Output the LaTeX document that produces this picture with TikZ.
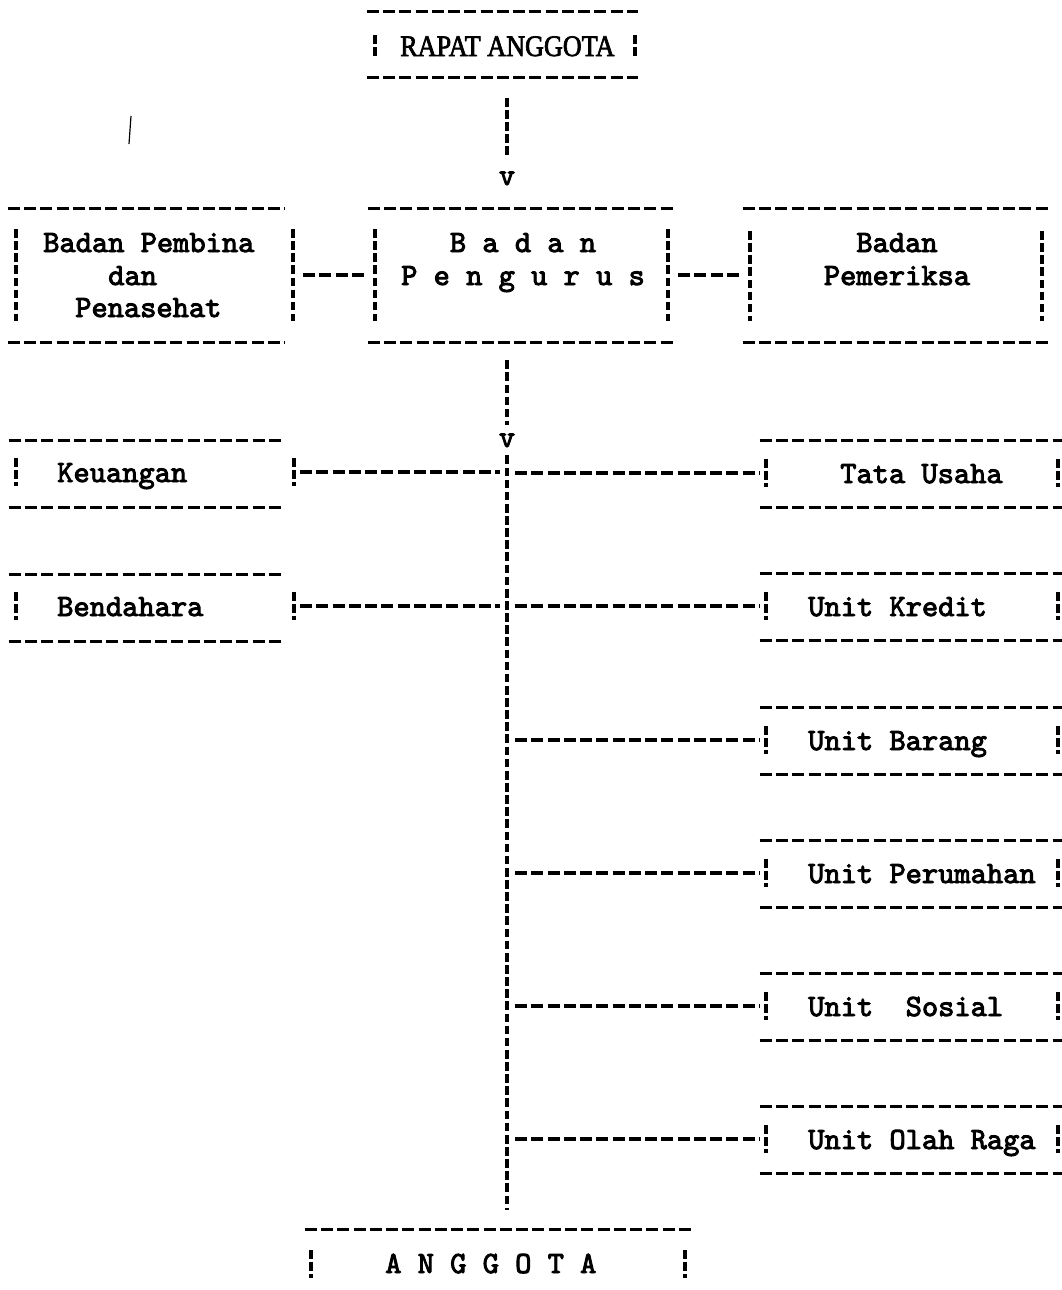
\documentclass[tikz,border=0pt]{standalone}
\usepackage{fontspec}
\newfontfamily\twf{lmmono10-regular.otf}[FakeBold=3]
\newfontfamily\rpf{Liberation Serif}[FakeBold=2.5]
\usetikzlibrary{fit}
\tikzset{
  x=0.75pt, y=-0.75pt,
  hline/.style={line width=2.4pt, dash pattern=on 9pt off 3.2pt},
  vline/.style={line width=2.4pt, dash pattern=on 6.5pt off 2.6pt},
  tw/.style={font=\twf\fontsize{23.2}{28}\selectfont, inner sep=0pt, anchor=base west},
  twc/.style={tw, anchor=base},
  boxarea/.style={inner sep=0pt, draw=none},
}
% name, x-left, x-right, y-top line, y-bottom line, left bar x, right bar x, bar top, bar bottom
\newcommand\twbox[9]{%
  \node[boxarea, fit={(#2,#4) (#3,#5)}] (#1) {};
  \draw[hline] (#1.north west) -- (#1.north east);
  \draw[hline] (#1.south west) -- (#1.south east);
  \draw[vline] (#6,#8) -- (#6,#9);
  \draw[vline] (#7,#8) -- (#7,#9);
  \coordinate (#1-l) at (#6,{(#8+#9)/2});
  \coordinate (#1-r) at (#7,{(#8+#9)/2});
}
\begin{document}
\begin{tikzpicture}
\path[use as bounding box] (0,0) rectangle (1062,1290);
\coordinate (col) at (507,0);

% stray mark
\draw[line width=0.9pt] (131,116) -- (129,144);

% Rapat Anggota
\twbox{rapat}{367}{638}{12}{77}{375}{635}{35}{58}
\node[font=\rpf\fontsize{22.3}{26}\selectfont, inner sep=0pt, anchor=base west] (rapatT) at (400,56) {\scalebox{0.88}[1]{RAPAT ANGGOTA}};
\node[twc] (v1) at (507,185) {v};
\draw[vline, shorten <=15.5pt, shorten >=10pt] (rapat.south -| v1) -- (v1.north);

% Row 2
\twbox{pemb}{8}{285}{209}{342}{16}{293}{229}{321}
\twbox{peng}{368}{675}{209}{342}{375}{668}{229}{321}
\twbox{peme}{743}{1048}{209}{342}{750}{1042}{231}{321}
\node[tw] (pembT1) at (43,252) {Badan Pembina};
\node[tw] (pembT2) at (108,285) {dan};
\node[tw] (pembT3) at (75,317) {Penasehat};
\node[twc] (pengT1) at (523,252) {B a d a n};
\node[twc] (pengT2) at (523,285) {P e n g u r u s};
\node[twc] (pemeT1) at (897,252) {Badan};
\node[twc] (pemeT2) at (897,285) {Pemeriksa};
\draw[hline, shorten <=7.5pt, shorten >=7.5pt] (pemb-r) -- (peng-l);
\draw[hline, shorten <=7.5pt, shorten >=7.5pt] (peng-r) -- (peme-l |- peng-r);

\node[twc] (v2) at (507,447) {v};
\draw[vline, shorten <=13.5pt, shorten >=6.5pt] (peng.south -| v2) -- (v2.north);

% left boxes
\twbox{keu}{9}{282}{441}{507}{16}{294}{458}{486}
\node[tw] (keuT) at (57,482) {Keuangan};
\twbox{ben}{9}{282}{575}{641}{16}{294}{592}{620}
\node[tw] (benT) at (57,616) {Bendahara};

% right boxes
\twbox{tu}{760}{1062}{441}{507}{766}{1058}{459}{487}
\node[tw] (tuT) at (840,483) {Tata Usaha};
\twbox{kr}{760}{1062}{574}{640}{766}{1058}{592}{620}
\node[tw] (krT) at (808,616) {Unit Kredit};
\twbox{br}{760}{1062}{708}{774}{766}{1058}{726}{754}
\node[tw] (brT) at (808,750) {Unit Barang};
\twbox{pr}{760}{1062}{841}{907}{766}{1058}{859}{887}
\node[tw] (prT) at (808,883) {Unit Perumahan};
\twbox{so}{760}{1062}{974}{1040}{766}{1058}{992}{1020}
\node[tw] (soT) at (808,1016) {Unit~~Sosial};
\twbox{or}{760}{1062}{1107}{1173}{766}{1058}{1125}{1153}
\node[tw] (orT) at (808,1149) {Unit Olah Raga};

% Anggota
\node[boxarea, fit={(305,1230) (692,1290)}] (angg) {};
\draw[hline] (angg.north west) -- (angg.north east);
\draw[vline] (311,1250) -- (311,1278);
\draw[vline] (685,1250) -- (685,1278);
\node[tw] (anggT) at (385,1273) {A N G G O T A};

% main column
\draw[vline, shorten <=6pt, shorten >=15pt] (v2.south) -- (angg.north -| v2);

% branches
\draw[hline, shorten <=4.5pt, shorten >=5pt] (keu-r) -- (col |- keu-r);
\draw[hline, shorten <=4.5pt, shorten >=5pt] (ben-r) -- (col |- ben-r);
\foreach \b in {tu,kr,br,pr,so,or}{
  \draw[hline, shorten <=6pt, shorten >=4.5pt] (col |- \b-l) -- (\b-l);
}
\end{tikzpicture}
\end{document}
